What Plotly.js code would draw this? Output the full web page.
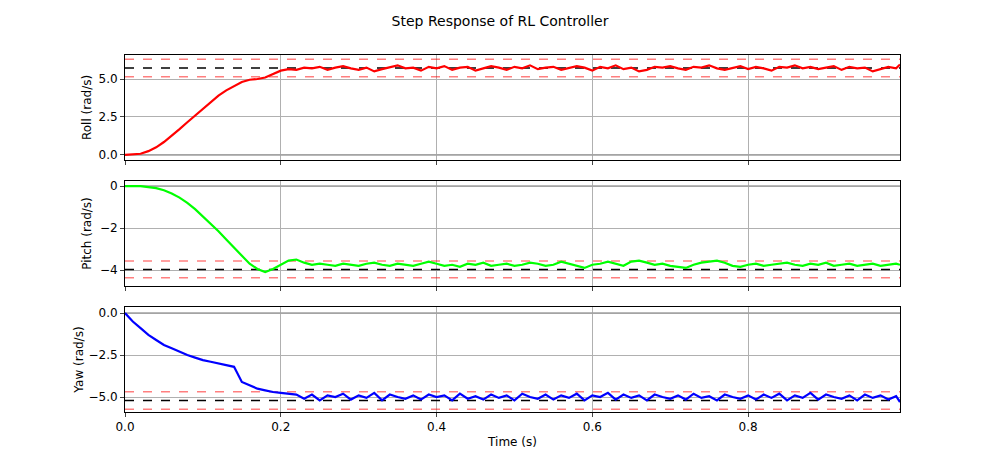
<!DOCTYPE html>
<html>
<head>
<meta charset="utf-8">
<script src="https://cdn.plot.ly/plotly-3.0.1.min.js"></script>
<style>body{margin:0;background:#fff}</style>
</head>
<body>
<div id="chart" style="width:1000px;height:463px"></div>
<script>
// sample times, 0.01 s apart
const time = Array.from({length: 100}, (_, i) => +(i * 0.01).toFixed(2));
time.push(0.995);

const roll = [0, 0.02, 0.08, 0.25, 0.5, 0.85, 1.25, 1.7, 2.15, 2.6,
  3.05, 3.5, 3.9, 4.25, 4.55, 4.8, 4.95, 5.0, 5.1, 5.3,
  5.55, 5.65, 5.6, 5.75, 5.7, 5.8, 5.6, 5.75, 5.85, 5.7,
  5.6, 5.75, 5.5, 5.65, 5.8, 5.9, 5.7, 5.75, 5.55, 5.8,
  5.7, 5.85, 5.6, 5.75, 5.8, 5.55, 5.7, 5.85, 5.75, 5.6,
  5.8, 5.7, 5.9, 5.65, 5.75, 5.8, 5.6, 5.7, 5.85, 5.75,
  5.55, 5.8, 5.7, 5.9, 5.65, 5.75, 5.5, 5.6, 5.8, 5.75,
  5.85, 5.7, 5.6, 5.8, 5.75, 5.9, 5.7, 5.6, 5.75, 5.85,
  5.65, 5.8, 5.7, 5.55, 5.8, 5.75, 5.9, 5.7, 5.8, 5.65,
  5.75, 5.85, 5.6, 5.8, 5.7, 5.75, 5.5, 5.65, 5.8, 5.7, 5.95];

const pitch = [0, 0, 0, -0.05, -0.1, -0.2, -0.35, -0.55, -0.8, -1.1,
  -1.45, -1.8, -2.15, -2.55, -2.95, -3.3, -3.7, -3.95, -4.1, -3.95,
  -3.75, -3.55, -3.5, -3.65, -3.75, -3.7, -3.75, -3.8, -3.7, -3.75,
  -3.8, -3.7, -3.65, -3.75, -3.8, -3.7, -3.75, -3.8, -3.7, -3.6,
  -3.7, -3.8, -3.75, -3.85, -3.7, -3.75, -3.65, -3.8, -3.75, -3.7,
  -3.8, -3.75, -3.65, -3.7, -3.8, -3.75, -3.6, -3.7, -3.8, -3.9,
  -3.75, -3.7, -3.6, -3.7, -3.8, -3.6, -3.55, -3.65, -3.75, -3.7,
  -3.8, -3.85, -3.9, -3.75, -3.65, -3.6, -3.55, -3.65, -3.8, -3.85,
  -3.75, -3.7, -3.8, -3.75, -3.7, -3.65, -3.75, -3.8, -3.7, -3.75,
  -3.65, -3.8, -3.75, -3.7, -3.8, -3.75, -3.7, -3.8, -3.75, -3.7, -3.75];

const yaw = [0, -0.5, -0.9, -1.3, -1.6, -1.9, -2.1, -2.3, -2.5, -2.65,
  -2.8, -2.9, -3.0, -3.1, -3.2, -4.1, -4.3, -4.5, -4.6, -4.7,
  -4.75, -4.8, -4.85, -5.1, -4.85, -5.2, -4.9, -5.0, -4.8, -5.15,
  -4.9, -5.05, -4.75, -5.2, -4.85, -5.0, -5.1, -4.9, -5.15, -4.85,
  -5.0, -4.9, -5.2, -4.8, -5.1, -4.95, -5.15, -4.85, -5.05, -4.9,
  -5.2, -4.8, -5.0, -5.1, -4.85, -5.15, -4.9, -5.05, -4.8, -5.2,
  -4.9, -5.0, -4.75, -5.15, -4.85, -5.05, -4.9, -5.2, -4.85, -5.0,
  -5.1, -4.9, -5.15, -4.8, -5.05, -4.95, -5.2, -4.85, -5.0, -5.1,
  -4.9, -5.15, -4.85, -5.05, -4.8, -5.2, -4.9, -5.05, -4.75, -5.15,
  -4.85, -5.0, -5.1, -4.9, -5.2, -4.85, -5.05, -4.9, -5.15, -4.95, -5.3];

// setpoints (black dashed) and ±10% bands (red dashed)
const rollTarget = 5.72;
const pitchTarget = -3.97;
const yawTarget = -5.2;

function hline(val, axis, color, dash) {
  return {
    x: [0, 1], y: [val, val], xaxis: 'x', yaxis: axis,
    mode: 'lines', line: {color: color, width: 1.5, dash: dash},
    hoverinfo: 'skip',
  };
}

function block(vals, target, axis, color) {
  return [
    hline(0, axis, '#a0a0a0', 'solid'),
    hline(target, axis, '#000', 'dash'),
    hline(target * 1.1, axis, 'rgba(255,0,0,0.5)', 'dash'),
    hline(target * 0.9, axis, 'rgba(255,0,0,0.5)', 'dash'),
    {x: time, y: vals, xaxis: 'x', yaxis: axis, mode: 'lines',
      line: {color: color, width: 2.2}},
  ];
}

const traces = [].concat(
  block(roll, rollTarget, 'y', '#ff0000'),
  block(pitch, pitchTarget, 'y2', '#00ff00'),
  block(yaw, yawTarget, 'y3', '#0000ff'),
);

const ax = {
  showline: true, mirror: true, linecolor: '#000', ticks: 'outside',
  ticklen: 4, showgrid: true, gridcolor: '#b0b0b0', zeroline: false,
};
const tf = {size: 12};

const layout = {
  width: 1000, height: 463, showlegend: false,
  margin: {l: 125, r: 100, t: 55, b: 51},
  font: {family: 'DejaVu Sans', size: 12, color: '#000'},
  title: {text: 'Step Response of RL Controller', x: 0.5, y: 0.965, font: {size: 14}},
  xaxis: Object.assign({}, ax, {range: [0, 0.995], domain: [0, 1], anchor: 'y3',
    tickvals: [0, 0.2, 0.4, 0.6, 0.8], tickformat: '.1f',
    title: {text: 'Time (s)', standoff: 4, font: tf}}),
  yaxis: Object.assign({}, ax, {domain: [0.706, 1], range: [-0.33, 6.58],
    tickvals: [0, 2.5, 5], tickformat: '.1f', title: {text: 'Roll (rad/s)', font: tf}}),
  yaxis2: Object.assign({}, ax, {domain: [0.353, 0.647], range: [-4.76, 0.24],
    tickvals: [-4, -2, 0], title: {text: 'Pitch (rad/s)', font: tf}}),
  yaxis3: Object.assign({}, ax, {domain: [0, 0.294], range: [-5.89, 0.36],
    tickvals: [-5, -2.5, 0], tickformat: '.1f', title: {text: 'Yaw (rad/s)', font: tf}}),
};

// tick stubs on the upper panels' x axes without labels
layout.xaxis2 = Object.assign({}, ax, {overlaying: 'x', anchor: 'y', matches: 'x',
  tickvals: [0, 0.2, 0.4, 0.6, 0.8], showticklabels: false, side: 'bottom'});
layout.xaxis3 = Object.assign({}, ax, {overlaying: 'x', anchor: 'y2', matches: 'x',
  tickvals: [0, 0.2, 0.4, 0.6, 0.8], showticklabels: false, side: 'bottom'});
traces.push({x: [0], y: [0], xaxis: 'x2', yaxis: 'y', mode: 'markers', marker: {opacity: 0}, hoverinfo: 'skip'});
traces.push({x: [0], y: [-1], xaxis: 'x3', yaxis: 'y2', mode: 'markers', marker: {opacity: 0}, hoverinfo: 'skip'});

Plotly.newPlot('chart', traces, layout, {displayModeBar: false});
</script>
</body>
</html>
